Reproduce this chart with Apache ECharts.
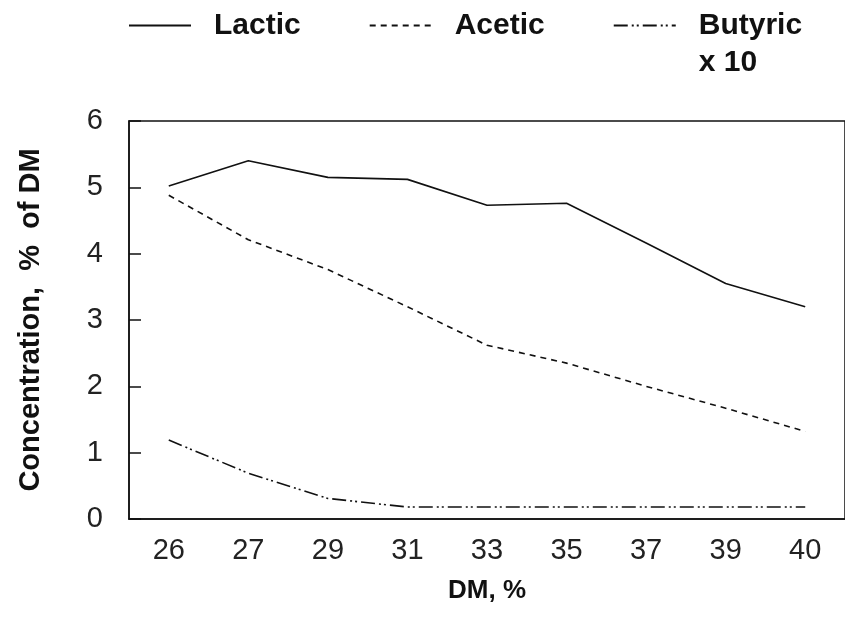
<!DOCTYPE html>
<html>
<head>
<meta charset="utf-8">
<script src="https://cdn.jsdelivr.net/npm/echarts@6/dist/echarts.min.js"></script>
<style>
html,body{margin:0;padding:0;background:#fff;}
#main{width:845px;height:623px;}
</style>
</head>
<body>
<div id="main"></div>
<script>
// DM levels (evenly spaced on the chart)
var dmLabels = ['26', '27', '29', '31', '33', '35', '37', '39', '40'];
// concentration, % of DM
var lactic  = [5.02, 5.40, 5.15, 5.12, 4.73, 4.76, 4.16, 3.55, 3.20];
var acetic  = [4.88, 4.21, 3.76, 3.20, 2.62, 2.35, 2.00, 1.67, 1.32];
var butyric = [1.19, 0.69, 0.31, 0.18, 0.18, 0.18, 0.18, 0.18, 0.18]; // x 10

var font = '"Liberation Sans", Arial, sans-serif';
var ink = '#111';

var chart = echarts.init(document.getElementById('main'));

var option = {
    backgroundColor: '#fff',
    animation: false,
    textStyle: {fontFamily: font},
    legend: {
        left: 128,
        top: -30,
        padding: 0,
        itemWidth: 62,
        itemHeight: 14,
        itemGap: 68,
        itemStyle: {opacity: 0, borderWidth: 0},
        textStyle: {
            fontSize: 30,
            fontWeight: 'bold',
            color: ink,
            lineHeight: 37,
            padding: [0, 0, 0, 18]
        },
        formatter: function (name) {
            // blank first line keeps "Butyric" level with its line sample
            return name === 'Butyric' ? ' \nButyric\nx 10' : name;
        },
        data: ['Lactic', 'Acetic', 'Butyric']
    },
    grid: {
        left: 129,
        right: -11,
        top: 121,
        bottom: 104,
        show: true,
        borderColor: ink,
        borderWidth: 1.5,
        backgroundColor: 'transparent'
    },
    xAxis: {
        type: 'category',
        data: dmLabels,
        boundaryGap: true,
        name: 'DM, %',
        nameLocation: 'middle',
        nameGap: 59,
        nameTextStyle: {fontSize: 26, fontWeight: 'bold', color: ink},
        axisLine: {lineStyle: {color: ink, width: 1.5}},
        axisTick: {inside: true, length: 12, alignWithLabel: true, lineStyle: {color: ink, width: 1.5}},
        axisLabel: {fontSize: 29, color: '#222', margin: 17},
        splitLine: {show: false}
    },
    yAxis: {
        type: 'value',
        min: 0,
        max: 6,
        interval: 1,
        name: 'Concentration,  %  of DM',
        nameLocation: 'middle',
        nameRotate: 90,
        nameGap: 84,
        nameTextStyle: {fontSize: 29, fontWeight: 'bold', color: ink},
        axisLine: {show: true, lineStyle: {color: ink, width: 1.5}},
        axisTick: {show: true, inside: true, length: 12, lineStyle: {color: ink, width: 1.5}},
        axisLabel: {fontSize: 29, color: '#222', margin: 26},
        splitLine: {show: false}
    },
    series: [
        {
            name: 'Lactic',
            type: 'line',
            data: lactic,
            symbol: 'none',
            color: ink,
            lineStyle: {color: ink, width: 1.6, type: 'solid'}
        },
        {
            name: 'Acetic',
            type: 'line',
            data: acetic,
            symbol: 'none',
            color: ink,
            lineStyle: {color: ink, width: 1.6, type: [6, 5]}
        },
        {
            name: 'Butyric',
            type: 'line',
            data: butyric,
            symbol: 'none',
            color: ink,
            lineStyle: {color: ink, width: 1.6, type: [14, 4, 2, 3, 2, 4]}
        }
    ]
};

chart.setOption(option);
</script>
</body>
</html>
